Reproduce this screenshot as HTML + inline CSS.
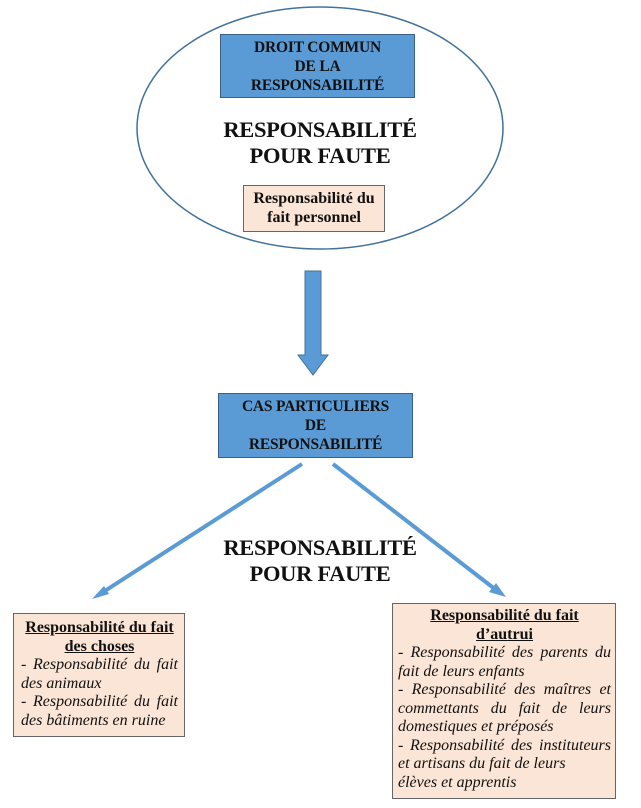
<!DOCTYPE html>
<html><head><meta charset="utf-8"><style>
body{margin:0;width:641px;height:808px;background:#fff;position:relative;font-family:"Liberation Serif",serif;overflow:hidden}
.a{position:absolute;box-sizing:border-box;text-align:center;font-weight:bold;color:#111}
.blue{background:#5b9bd5;border:1.5px solid #3a5f8a;font-size:15.5px;line-height:19px;padding-top:3px;letter-spacing:-0.2px}
.peach{background:#fbe5d6;border:1.5px solid #666}
.big{font-size:22.5px;line-height:26px;letter-spacing:-0.3px}
.it{font-style:italic;font-weight:normal;text-align:justify;text-align-last:left}
</style></head><body>
<svg width="641" height="808" style="position:absolute;left:0;top:0">
<ellipse cx="320" cy="128" rx="183" ry="121" fill="#fff" stroke="#41719c" stroke-width="1.5"/>
<polygon points="305,271 321,271 321,355 328,355 313,375 298,355 305,355" fill="#5b9bd5" stroke="#41719c" stroke-width="1"/>
<line x1="302" y1="464" x2="97" y2="596" stroke="#5b9bd5" stroke-width="4"/>
<polygon points="92,599 104,586 109,594" fill="#5b9bd5"/>
<line x1="333" y1="464" x2="500" y2="593" stroke="#5b9bd5" stroke-width="4"/>
<polygon points="506,597 489,592 496,583" fill="#5b9bd5"/>
</svg>
<div class="a blue" style="left:220px;top:34px;width:195px;height:64px">DROIT COMMUN<br>DE LA<br>RESPONSABILITÉ</div>
<div class="a big" style="left:170px;top:117px;width:300px">RESPONSABILITÉ<br>POUR FAUTE</div>
<div class="a peach" style="left:243px;top:185px;width:142px;height:47px;font-size:16px;line-height:19px;padding-top:3px;white-space:nowrap">Responsabilité du<br>fait personnel</div>
<div class="a blue" style="left:218px;top:393px;width:195px;height:65px">CAS PARTICULIERS<br>DE<br>RESPONSABILITÉ</div>
<div class="a big" style="left:170px;top:535px;width:300px">RESPONSABILITÉ<br>POUR FAUTE</div>
<div class="a peach" style="left:13px;top:613px;width:172px;height:124px;font-size:16px;line-height:18.5px;padding:5px 6px 0 7px"><u>Responsabilité du fait<br>des choses</u><div class="it">- Responsabilité du fait des animaux<br>- Responsabilité du fait des bâtiments en ruine</div></div>
<div class="a peach" style="left:392px;top:603px;width:224px;height:196px;font-size:16px;line-height:18.5px;padding:3px 4px 0 5px"><u>Responsabilité du fait<br>d’autrui</u><div class="it">- Responsabilité des parents du fait de leurs enfants<br>- Responsabilité des maîtres et commettants du fait de leurs domestiques et préposés<br>- Responsabilité des instituteurs et artisans du fait de leurs<br>élèves et apprentis</div></div>
</body></html>
